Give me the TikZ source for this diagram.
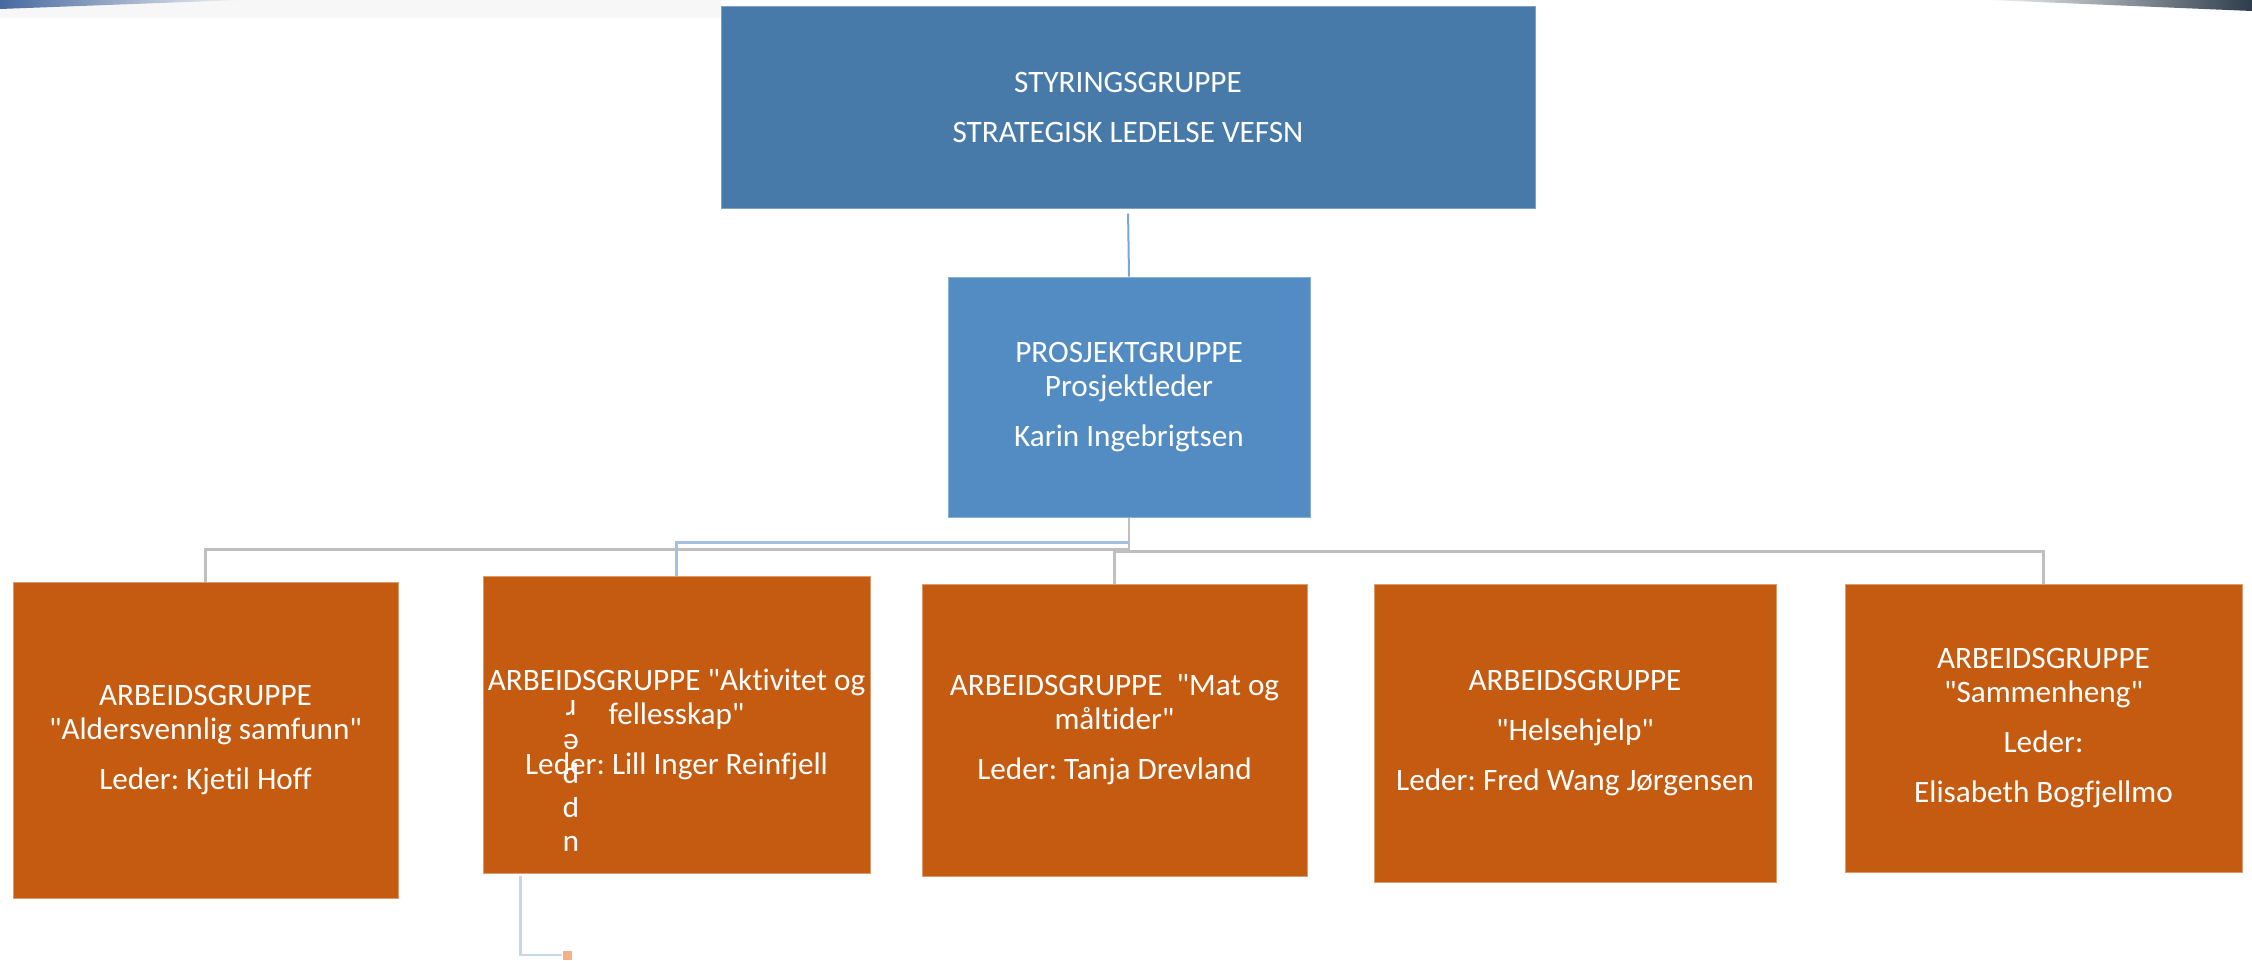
\documentclass[tikz,border=0pt]{standalone}
\usepackage{fontspec}
\setmainfont{Carlito}[Ligatures={TeXOff,NoCommon}]
\frenchspacing
\definecolor{styrblue}{RGB}{71,122,168}
\definecolor{prosblue}{RGB}{83,140,194}
\definecolor{arbeidorange}{RGB}{197,90,17}
\definecolor{busgray}{RGB}{191,191,191}
\definecolor{linkblue}{RGB}{120,168,218}
\definecolor{buslinkblue}{RGB}{166,192,226}
\definecolor{straylinkblue}{RGB}{198,214,236}
\definecolor{tagorange}{RGB}{244,177,131}
\definecolor{stripblue}{RGB}{70,105,160}
\definecolor{stripslate}{RGB}{45,60,75}
\tikzset{box/.style = {rectangle, inner sep=0pt, text=white, align=center, line width=0.5pt}}
\tikzset{bus/.style = {draw=busgray, line width=1.25pt}}

\begin{document}
\begin{tikzpicture}[x=0.5pt, y=-0.5pt,
    font=\fontsize{15.6}{17}\selectfont,
    styr/.style={box, fill=styrblue, draw=styrblue!70!white},
    pros/.style={box, fill=prosblue, draw=prosblue!70!white},
    arbeid/.style={box, fill=arbeidorange, draw=arbeidorange!60!white},
    ]
    \useasboundingbox (0,0) rectangle (2252,960);

    % Top strip of the slide picture
    \fill[gray!6] (0,0) rectangle (721,18);
    \shade[left color=stripblue, right color=gray!10] (0,0) -- (240,0) -- (0,9) -- cycle;
    \shade[left color=gray!10, right color=stripslate] (1990,0) -- (2252,0) -- (2252,11) -- cycle;

    % Top levels
    \node[styr, minimum width=407pt, minimum height=101pt] (styr) at (1128,107)
        {STYRINGSGRUPPE\\[8pt] STRATEGISK LEDELSE VEFSN};
    \node[pros, minimum width=181pt, minimum height=120pt] (pros) at (1129,397)
        {PROSJEKTGRUPPE\\ Prosjektleder\\[8pt] Karin Ingebrigtsen};

    % Working groups
    \node[arbeid, minimum width=192.5pt, minimum height=158pt] (alders) at (205.5,740)
        {ARBEIDSGRUPPE\\ "Aldersvennlig samfunn"\\[8pt] Leder: Kjetil Hoff};
    \node[arbeid, minimum width=193.5pt, minimum height=148.5pt] (aktiv) at (676.5,724.5)
        {ARBEIDSGRUPPE "Aktivitet og\\ fellesskap"\\[8pt] Leder: Lill Inger Reinfjell};
    \node[arbeid, minimum width=192.5pt, minimum height=146pt] (mat) at (1114.5,730)
        {ARBEIDSGRUPPE\ \ "Mat og\\ måltider"\\[8pt] Leder: Tanja Drevland};
    \node[arbeid, minimum width=201pt, minimum height=149pt] (helse) at (1575,733)
        {ARBEIDSGRUPPE\\[8pt] "Helsehjelp"\\[8pt] Leder: Fred Wang Jørgensen};
    \node[arbeid, minimum width=198.5pt, minimum height=144pt] (samm) at (2043.5,728)
        {ARBEIDSGRUPPE\\ "Sammenheng"\\[8pt] Leder:\\[8pt] Elisabeth Bogfjellmo};

    % Upside down leftover in the second group
    \node[text=white, align=center, inner sep=0pt, rotate=180] (upper) at (571,776)
        {u\\ p\\ p\\ e\\ r};

    % Connectors
    \draw[draw=linkblue, line width=1pt, shorten <=2.5pt] (styr.south) -- (pros.north);
    \draw[bus] (pros.south) -- ++(0,35);
    \draw[bus] (pros.south) ++(0,32) -| (alders.north);
    \draw[bus] (mat.north) -- ++(0,-32) -| (samm.north);
    \draw[draw=buslinkblue, line width=1.25pt] (pros.south) ++(0,25) -| (aktiv.north);

    % Stray link below
    \node[fill=tagorange, minimum size=4.5pt, inner sep=0pt] (tag) at (567,955) {};
    \draw[draw=straylinkblue, line width=1.25pt] (aktiv.south west) ++(38,2) |- (tag.west);

\end{tikzpicture}
\end{document}
